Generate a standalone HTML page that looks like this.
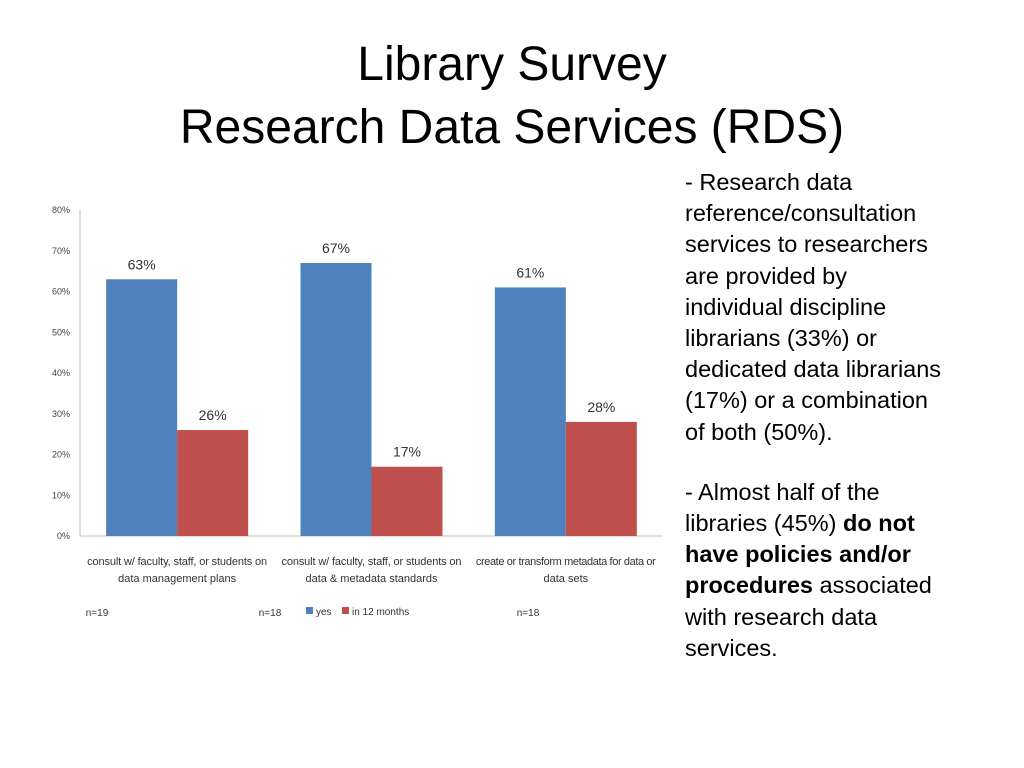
<!DOCTYPE html>
<html><head><meta charset="utf-8"><style>
body{margin:0;width:1024px;height:768px;background:#fff;font-family:"Liberation Sans",sans-serif;overflow:hidden;position:relative}
.title{position:absolute;left:0;width:1024px;top:33px;text-align:center;font-size:48px;line-height:63px;color:#000}
.txt{position:absolute;left:685px;top:167px;width:340px;font-size:23.5px;line-height:31.2px;color:#000;white-space:nowrap}
.txt p{margin:0 0 29px 0}
</style></head><body>
<div class="title">Library Survey<br>Research Data Services (RDS)</div>
<svg id="chart" width="680" height="640" style="position:absolute;left:0;top:0" font-family="Liberation Sans, sans-serif"></svg>
<div class="txt">
<p>- Research data<br>reference/consultation<br>services to researchers<br>are provided by<br>individual discipline<br>librarians (33%) or<br>dedicated data librarians<br>(17%) or a combination<br>of both (50%).</p>
<p>- Almost half of the<br>libraries (45%) <b>do not</b><br><b>have policies and/or</b><br><b>procedures</b> associated<br>with research data<br>services.</p>
</div>
<script>
const categories=[["consult w/ faculty, staff, or students on","data management plans"],["consult w/ faculty, staff, or students on","data & metadata standards"],["create or transform metadata for data or","data sets"]];
const yesVals=[63,67,61];
const monthVals=[26,17,28];
const yTicks=[0,10,20,30,40,50,60,70,80];
const nLabels=["n=19","n=18","n=18"];
const svg=document.getElementById('chart');const NS='http://www.w3.org/2000/svg';
function mk(t,a,txt){const e=document.createElementNS(NS,t);for(const k in a)e.setAttribute(k,a[k]);if(txt!==undefined)e.textContent=txt;svg.appendChild(e);return e;}
const x0=80,x1=663,yb=536,yt=210;
const y=v=>yb-(v/80)*(yb-yt);
const gw=(x1-x0)/categories.length,bw=71;
const ax=mk('line',{x1:x0,y1:yt,x2:x0,y2:yb,stroke:'#bbb'});
const bx=mk('line',{x1:x0,y1:yb,x2:x1,y2:yb,stroke:'#bbb'});
yTicks.forEach(t=>{const e=mk('text',{x:70,y:y(t)+3,'text-anchor':'end','font-size':9,fill:'#444'},t+'%');});
categories.forEach((c,i)=>{const cx=x0+gw*(i+0.5);
const b1=mk('rect',{x:cx-bw,y:y(yesVals[i]),width:bw,height:yb-y(yesVals[i]),fill:'#4f81bd'});
const b2=mk('rect',{x:cx,y:y(monthVals[i]),width:bw,height:yb-y(monthVals[i]),fill:'#c0504d'});
const l1=mk('text',{x:cx-bw/2,y:y(yesVals[i])-10,'text-anchor':'middle','font-size':14,fill:'#333'},yesVals[i]+'%');
const l2=mk('text',{x:cx+bw/2,y:y(monthVals[i])-10,'text-anchor':'middle','font-size':14,fill:'#333'},monthVals[i]+'%');
c.forEach((ln,j)=>{const e=mk('text',{x:cx,y:565+j*17,'text-anchor':'middle','font-size':11,fill:'#333',textLength:j==0?180:null});e.textContent=ln;if(j>0)e.removeAttribute('textLength');});
const n=mk('text',{x:[97,270,528][i],y:616,'font-size':10,fill:'#333','text-anchor':'middle'},nLabels[i]);
});
const lg=[['yes','#4f81bd',306],['in 12 months','#c0504d',342]];
lg.forEach(l=>{const r=mk('rect',{x:l[2],y:607,width:7,height:7,fill:l[1]});
const t=mk('text',{x:l[2]+10,y:615,'font-size':10,fill:'#333'},l[0]);});
</script>
</body></html>
